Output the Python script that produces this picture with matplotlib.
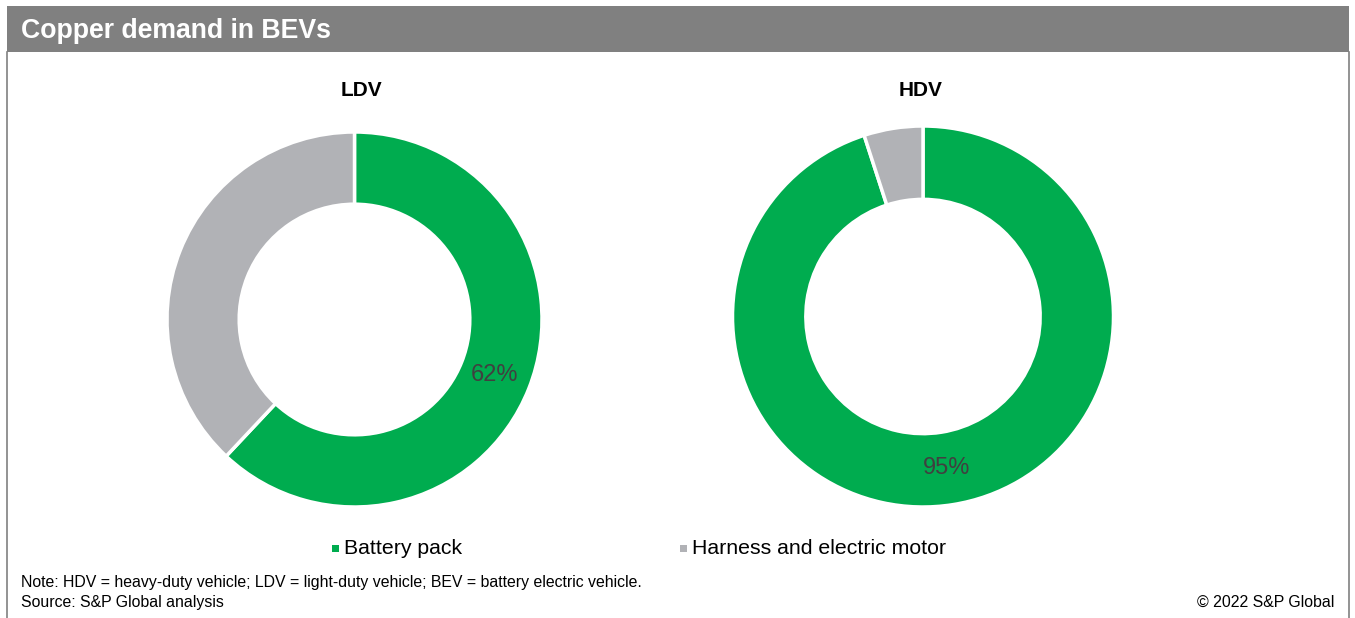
import matplotlib
matplotlib.use("Agg")
import matplotlib.pyplot as plt
from matplotlib.patches import Rectangle
from matplotlib.lines import Line2D
import numpy as np

plt.rcParams['font.family'] = ['Liberation Sans', 'DejaVu Sans']

# ---- data ----
title = "Copper demand in BEVs"
panels = ["LDV", "HDV"]
categories = ["Battery pack", "Harness and electric motor"]
ldv_values = [62, 38]
hdv_values = [95, 5]
colors = ["#00AC4F", "#B1B2B6"]
note = "Note: HDV = heavy-duty vehicle; LDV = light-duty vehicle; BEV = battery electric vehicle."
source = "Source: S&P Global analysis"
copyright_txt = "\u00a9 2022 S&P Global"

W, H = 1355, 618
fig = plt.figure(figsize=(W / 100, H / 100), dpi=100)

def fx(x):
    return x / W

def fy(y):
    return 1 - y / H

# title bar and frame
fig.patches.append(Rectangle((fx(7), fy(52)), fx(1349) - fx(7), fy(6) - fy(52),
                             transform=fig.transFigure, facecolor="#808080",
                             edgecolor="none"))
fig.lines.append(Line2D([fx(7.5), fx(7.5)], [fy(52), 0], transform=fig.transFigure,
                        color="#808080", lw=1.2))
fig.lines.append(Line2D([fx(1349), fx(1349)], [fy(52), 0], transform=fig.transFigure,
                        color="#808080", lw=1.2))
fig.text(fx(21), fy(31), title, color="white", fontsize=19.2, fontweight="bold",
         va="center", ha="left")

def donut(cx, cy, r, values, name, name_x, name_y):
    ax = fig.add_axes([fx(cx - r), fy(cy + r), 2 * r / W, 2 * r / H])
    ax.pie(values, colors=colors, startangle=90, counterclock=False,
           radius=1, wedgeprops=dict(width=0.385, edgecolor="white", linewidth=2.5))
    frac = values[0] / sum(values)
    ang = np.deg2rad(90 - 360 * frac / 2)
    rr = 0.805
    ax.text(rr * np.cos(ang), rr * np.sin(ang), f"{values[0]}%", ha="center",
            va="center", fontsize=17, color="#404040")
    ax.set_xlim(-1, 1)
    ax.set_ylim(-1, 1)
    ax.set_aspect("equal")
    ax.axis("off")
    fig.text(fx(name_x), fy(name_y), name, ha="center", va="center",
             fontsize=15, fontweight="bold")

donut(354.5, 319.5, 187.5, ldv_values, panels[0], 361.5, 90)
donut(923, 316.5, 190.5, hdv_values, panels[1], 921, 90)

# legend
leg_items = [(335, 548, categories[0], colors[0]), (683, 548, categories[1], colors[1])]
for x, y, lab, c in leg_items:
    fig.patches.append(Rectangle((fx(x - 3.5), fy(y + 3.5)), 7 / W, 7 / H,
                                 transform=fig.transFigure, facecolor=c, edgecolor="none"))
    fig.text(fx(x + 9), fy(y + 0.5), lab, ha="left", va="center", fontsize=15.3)

fig.text(fx(21), fy(582), note, ha="left", va="center", fontsize=11.4)
fig.text(fx(21), fy(602), source, ha="left", va="center", fontsize=11.4)
fig.text(fx(1334), fy(602), copyright_txt, ha="right", va="center", fontsize=11.4)

fig.savefig("out.png", dpi=100)
